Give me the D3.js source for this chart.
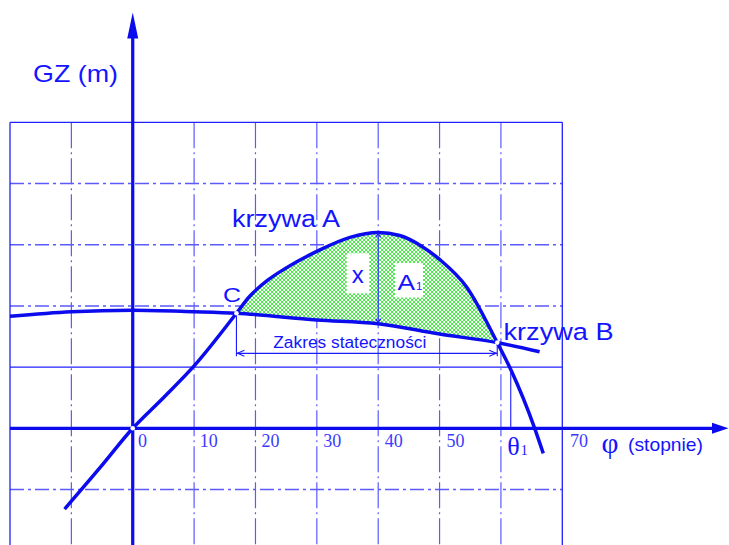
<!DOCTYPE html>
<html><head><meta charset="utf-8">
<script src="https://cdn.jsdelivr.net/npm/d3@7"></script>
<style>html,body{margin:0;padding:0;background:#fff;}svg{display:block;}</style>
</head><body>
<svg id="c" width="729" height="545"></svg>
<script>
// ---- data ----
const phiA = [-11.1, -5.3, 0, 5, 10, 16.9, 19, 22, 25, 30, 35.4, 40, 43.5, 47, 50, 54.4, 59.4, 61.6, 65.5, 66.9];
const gzA  = [-1.32, -0.64, 0, 0.5, 1.02, 1.88, 2.15, 2.42, 2.62, 2.89, 3.12, 3.20, 3.15, 2.98, 2.76, 2.31, 1.40, 0.96, 0, -0.41];
const phiB = [-20, -10, 0, 10, 16.9, 30, 40, 50, 59.4, 66.3];
const gzB  = [1.83, 1.905, 1.93, 1.905, 1.88, 1.77, 1.71, 1.54, 1.40, 1.25];
const xTicks = [0, 10, 20, 30, 40, 50, 70];
const xTickLabels = ["0", "10", "20", "30", "40", "50", "70"];
const gridX = [-10, 10, 20, 30, 40, 50, 60];
const gridY = [4, 3, 2, -1];
const solidY = [5, 1];
const solidX = [-20, 70];
const pointC = [16.9, 1.88];
const pointB = [59.4, 1.40];
const peakA = [40, 3.20, 1.71];
const theta1 = [61.6, 0.96];
const dimY = 1.225;

// ---- scales ----
const W = 729, H = 545;
const x = d3.scaleLinear().domain([-20, 70]).range([10, 562.3]);
const y = d3.scaleLinear().domain([-2, 5]).range([550.7, 122.3]);
const xl = d3.scaleLinear().domain([0, 70]).range([138, 570]);

const svg = d3.select("#c");
svg.append("rect").attr("width", W).attr("height", H).attr("fill", "#fff");
const defs = svg.append("defs");
const pat = defs.append("pattern").attr("id", "hatch").attr("patternUnits", "userSpaceOnUse")
  .attr("width", 4).attr("height", 4);
pat.append("rect").attr("width", 4).attr("height", 4).attr("fill", "#ffffff");
pat.append("path").attr("d", "M0,0L4,4M4,0L0,4").attr("stroke", "#2aea2a").attr("stroke-width", 0.85);

const BLUE = "#0b0bee", TXT = "#1414ff", GRID = "#5a5aff";

// ---- grid ----
const g = svg.append("g");
g.selectAll(".gx").data(gridX).join("line")
  .attr("x1", d => x(d)).attr("x2", d => x(d)).attr("y1", y(5)).attr("y2", H)
  .attr("stroke", GRID).attr("stroke-width", 1.2).attr("stroke-dasharray", "26,4,2,4");
g.selectAll(".gy").data(gridY).join("line")
  .attr("x1", x(-20)).attr("x2", x(70)).attr("y1", d => y(d)).attr("y2", d => y(d))
  .attr("stroke", GRID).attr("stroke-width", 1.5).attr("stroke-dasharray", "14,4,3,4");
g.selectAll(".sy").data(solidY).join("line")
  .attr("x1", x(-20)).attr("x2", x(70)).attr("y1", d => y(d)).attr("y2", d => y(d))
  .attr("stroke", "#2020ff").attr("stroke-width", 1.3);
g.selectAll(".sx").data(solidX).join("line")
  .attr("x1", d => x(d)).attr("x2", d => x(d)).attr("y1", y(5)).attr("y2", H)
  .attr("stroke", "#2020ff").attr("stroke-width", 1.3);

// ---- hatched area ----
const ptsA = phiA.map((p, i) => [p, gzA[i]]);
const ptsB = phiB.map((p, i) => [p, gzB[i]]);
const line = d3.line().x(d => x(d[0])).y(d => y(d[1])).curve(d3.curveMonotoneX);
const lineR = d3.line().x(d => x(d[0])).y(d => y(d[1])).curve(d3.curveLinear);
const subA = ptsA.filter(d => d[0] >= pointC[0] && d[0] <= pointB[0]);
const subB = ptsB.filter(d => d[0] >= pointC[0] && d[0] <= pointB[0]).reverse();
svg.append("path").attr("d", line(subA) + "L" + lineR(subB).slice(1) + "Z")
  .attr("fill", "url(#hatch)").attr("stroke", "none");

// ---- axes ----
svg.append("line").attr("x1", x(0)).attr("x2", x(0)).attr("y1", H).attr("y2", 36)
  .attr("stroke", BLUE).attr("stroke-width", 3.2);
svg.append("path").attr("d", `M${x(0)},12.5L${x(0)-5.5},38.5L${x(0)+5.5},38.5Z`).attr("fill", BLUE);
svg.append("line").attr("x1", x(-20)).attr("x2", 715).attr("y1", y(0)).attr("y2", y(0))
  .attr("stroke", BLUE).attr("stroke-width", 3.2);
svg.append("path").attr("d", `M728.5,${y(0)}L712,${y(0)-5.5}L712,${y(0)+5.5}Z`).attr("fill", BLUE);

// ---- curves ----
svg.append("path").attr("d", line(ptsB)).attr("fill", "none").attr("stroke", BLUE).attr("stroke-width", 3.5);
svg.append("path").attr("d", line(ptsA)).attr("fill", "none").attr("stroke", BLUE).attr("stroke-width", 3.5);

// ---- annotation lines ----
const ann = svg.append("g").attr("stroke", "#1a1aff").attr("stroke-width", 1.1).attr("fill", "none");
ann.append("line").attr("x1", x(pointC[0])).attr("x2", x(pointC[0])).attr("y1", y(pointC[1])).attr("y2", y(dimY) + 3);
ann.append("line").attr("x1", x(pointB[0])).attr("x2", x(pointB[0])).attr("y1", y(pointB[1])).attr("y2", y(dimY) + 3);
ann.append("line").attr("x1", x(pointC[0])).attr("x2", x(pointB[0])).attr("y1", y(dimY)).attr("y2", y(dimY));
ann.append("path").attr("d", `M${x(pointC[0])+8},${y(dimY)-3}L${x(pointC[0])+1},${y(dimY)}L${x(pointC[0])+8},${y(dimY)+3}`);
ann.append("path").attr("d", `M${x(pointB[0])-8},${y(dimY)-3}L${x(pointB[0])-1},${y(dimY)}L${x(pointB[0])-8},${y(dimY)+3}`);
ann.append("line").attr("x1", x(peakA[0])).attr("x2", x(peakA[0])).attr("y1", y(peakA[1])).attr("y2", y(peakA[2]));
ann.append("path").attr("d", `M${x(peakA[0])-2.5},${y(peakA[1])+5}L${x(peakA[0])},${y(peakA[1])+1}L${x(peakA[0])+2.5},${y(peakA[1])+5}`);
ann.append("path").attr("d", `M${x(peakA[0])-2.5},${y(peakA[2])-5}L${x(peakA[0])},${y(peakA[2])-1}L${x(peakA[0])+2.5},${y(peakA[2])-5}`);
ann.append("line").attr("x1", x(theta1[0])).attr("x2", x(theta1[0])).attr("y1", y(theta1[1])).attr("y2", y(0));

// ---- intersection dots ----
svg.selectAll(".dot").data([[0, 0], pointC, pointB]).join("circle")
  .attr("cx", d => x(d[0])).attr("cy", d => y(d[1])).attr("r", 2.3)
  .attr("fill", "#fff").attr("stroke", "none");

// ---- white boxes ----
svg.append("rect").attr("x", 346.7).attr("y", 253.3).attr("width", 22.6).attr("height", 40).attr("fill", "#fff");
svg.append("rect").attr("x", 395).attr("y", 263).attr("width", 28).attr("height", 34.5).attr("fill", "#fff");

// ---- text ----
const SANS = "'Liberation Sans', Arial, sans-serif";
const SERIF = "'Liberation Serif', 'Times New Roman', serif";
function txt(t, px, py, size, fam, opts) {
  const e = svg.append("text").attr("x", px).attr("y", py).text(t)
    .attr("font-family", fam).attr("font-size", size).attr("fill", (opts && opts.fill) || TXT);
  if (opts && opts.len) e.attr("textLength", opts.len).attr("lengthAdjust", "spacingAndGlyphs");
  if (opts && opts.anchor) e.attr("text-anchor", opts.anchor);
  return e;
}
txt("GZ (m)", 33, 82, 24.5, SANS, {len: 85});
txt("krzywa A", 232, 227, 23.5, SANS, {len: 108});
txt("krzywa B", 503.5, 340, 24.5, SANS, {len: 110});
txt("C", 223, 302, 21, SANS, {len: 18});
txt("x", 357.8, 283.3, 24, SANS, {anchor: "middle"});
txt("A", 397.5, 290, 22.5, SANS, {len: 17.5});
txt("1", 416, 290, 11.5, SANS);
txt("Zakres  stateczności", 273.3, 348.3, 16, SANS, {len: 153});
txt("φ", 601.5, 453, 30, SERIF, {len: 17});
txt("(stopnie)", 628, 451, 19, SANS, {len: 75});
txt("θ", 507.3, 455, 25, SERIF, {len: 12.5});
txt("1", 520.7, 455, 14, SERIF);

svg.selectAll(".tl").data(xTicks).join("text")
  .attr("x", d => xl(d)).attr("y", 447.3).text((d, i) => xTickLabels[i])
  .attr("font-family", SERIF).attr("font-size", 18).attr("fill", "#3a3aff");
</script>
</body></html>
